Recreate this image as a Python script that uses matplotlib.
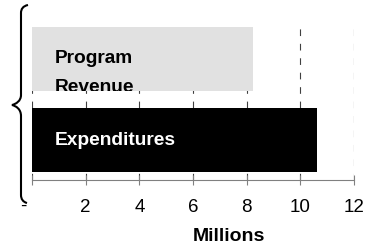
import matplotlib.pyplot as plt
from matplotlib.path import Path
from matplotlib.patches import PathPatch

categories = ['Expenditures', 'Program\nRevenue']
values = [10.62, 8.24]
bar_colors = ['black', '#e1e1e1']
label_colors = ['white', 'black']
tick_values = [0, 2, 4, 6, 8, 10, 12]
tick_labels = ['-', '2', '4', '6', '8', '10', '12']

plt.rcParams['font.family'] = ['Liberation Sans', 'DejaVu Sans']

W, H = 382, 246
fig = plt.figure(figsize=(W / 100, H / 100), dpi=100)
ax = fig.add_axes([32 / W, 66 / H, 322 / W, 158 / H])

bars = ax.barh(range(len(categories)), values, height=0.79, color=bar_colors, zorder=2)
ax.set_xlim(0, 12)
ax.set_ylim(-0.5, 1.46)

# labels inside the bars, clipped to the bar like in the original
for bar, name, col in zip(bars, categories, label_colors):
    y = bar.get_y() + bar.get_height() / 2
    n = name.count('\n')
    t = ax.annotate(name, xy=(0, y), xytext=(16.5, -3.8 - n * 19.6),
                    textcoords='offset points', ha='left', va='baseline',
                    color=col, fontsize=13.8, fontweight='bold',
                    linespacing=1.89, zorder=3)
    t.set_clip_path(bar)

ax.set_axisbelow(True)
ax.grid(axis='x', color='#404040', lw=0.8, linestyle=(0, (6, 7)))
for s in ['top', 'right', 'left']:
    ax.spines[s].set_visible(False)
ax.spines['bottom'].set_color('#808080')
ax.spines['bottom'].set_linewidth(0.8)
ax.set_yticks([])
pad = 10
ax.set_xticks(tick_values, [''] + tick_labels[1:], fontsize=13.5)
ax.tick_params(axis='x', direction='inout', length=7.2, width=0.8, color='#808080', pad=pad)
# zero is shown as a dash, pushed left of the axis start
ax.annotate(tick_labels[0], xy=(tick_values[0], 0), xycoords=('data', 'axes fraction'),
            xytext=(-6.5, -pad - 2.5), textcoords='offset points',
            ha='center', va='top', fontsize=13.5)

fig.text(229 / W, 1 - 241 / H, 'Millions', ha='center', va='baseline',
         fontsize=14, fontweight='bold')

# curly brace on the left
pts = [(28, 5), (23, 6), (21, 9), (21, 13),
       (21, 95),
       (21, 101), (16, 104), (12, 105),
       (16, 106), (21, 109), (21, 116),
       (21, 195),
       (21, 199), (23, 202), (27, 203)]
codes = [Path.MOVETO, Path.CURVE4, Path.CURVE4, Path.CURVE4,
         Path.LINETO,
         Path.CURVE4, Path.CURVE4, Path.CURVE4,
         Path.CURVE4, Path.CURVE4, Path.CURVE4,
         Path.LINETO,
         Path.CURVE4, Path.CURVE4, Path.CURVE4]
verts = [(x / W, 1 - y / H) for x, y in pts]
fig.add_artist(PathPatch(Path(verts, codes), transform=fig.transFigure,
                         fill=False, lw=1.5, ec='black'))

fig.savefig('out.png', dpi=100)
